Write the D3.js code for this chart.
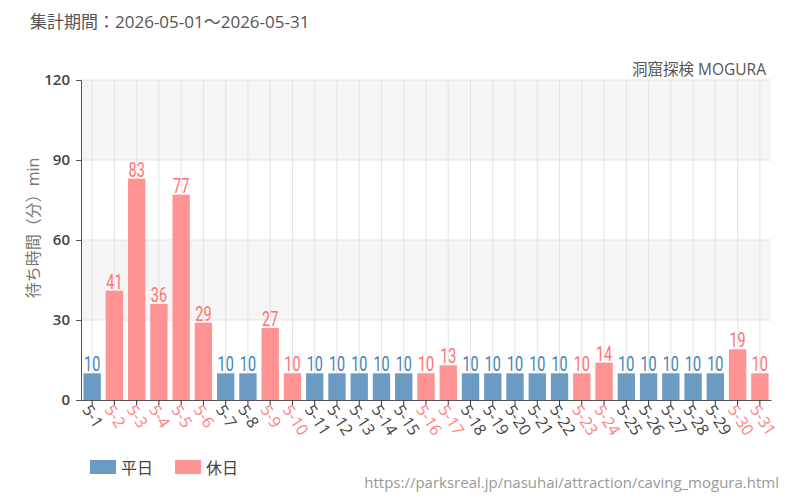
<!DOCTYPE html>
<html>
<head>
<meta charset="utf-8">
<script src="https://cdn.jsdelivr.net/npm/d3@7"></script>
<style>
body { margin:0; background:#fff; }
text { font-family: "Open Sans", "Noto Sans CJK JP", sans-serif; }
</style>
</head>
<body>
<svg id="chart" width="800" height="500"></svg>
<script>
// data
var days = ["5-1","5-2","5-3","5-4","5-5","5-6","5-7","5-8","5-9","5-10","5-11","5-12","5-13","5-14","5-15","5-16","5-17","5-18","5-19","5-20","5-21","5-22","5-23","5-24","5-25","5-26","5-27","5-28","5-29","5-30","5-31"];
var waits = [10,41,83,36,77,29,10,10,27,10,10,10,10,10,10,10,13,10,10,10,10,10,10,14,10,10,10,10,10,19,10];
var holiday = [0,1,1,1,1,1,0,0,1,1,0,0,0,0,0,1,1,0,0,0,0,0,1,1,0,0,0,0,0,1,1];
var yTicks = [0,30,60,90,120];
var legendNames = ["平日","休日"];

var barColor = ["#6b9bc3","#ff9292"];
var labelColor = ["#4682b4","#ff7070"];

var svg = d3.select("#chart");
let m = {l:81,r:29,t:80,b:100};
var w = 800 - m.l - m.r, h = 500 - m.t - m.b;

var x = d3.scaleBand().domain(days).range([0,w]).paddingInner(0.22).paddingOuter(0.11);
var y = d3.scaleLinear().domain([0,120]).range([h,0]);

var g = svg.append("g").attr("transform","translate("+m.l+","+m.t+")");

// alternating bands
g.selectAll(".band").data(d3.pairs(yTicks))
    .join("rect")
    .attr("x",0).attr("width",w)
    .attr("y",d=>y(d[1])).attr("height",d=>y(d[0])-y(d[1]))
    .attr("fill",(d,i)=> i%2 ? "#f5f5f5" : "#ffffff");

// grid lines
g.selectAll(".hg").data(yTicks.slice(1))
    .join("line")
    .attr("x1",0).attr("x2",w)
    .attr("y1",d=>y(d)).attr("y2",d=>y(d))
    .attr("stroke","#e3e3e3");
g.selectAll(".vg").data(days)
    .join("line")
    .attr("x1",d=>x(d)+x.bandwidth()/2).attr("x2",d=>x(d)+x.bandwidth()/2)
    .attr("y1",0).attr("y2",h)
    .attr("stroke","#e3e3e3");

// bars
g.selectAll(".bar").data(days)
    .join("rect")
    .attr("x",d=>x(d)).attr("width",x.bandwidth())
    .attr("y",(d,i)=>y(waits[i])).attr("height",(d,i)=>h-y(waits[i]))
    .attr("fill",(d,i)=>barColor[holiday[i]]);

// value labels (condensed look)
g.selectAll(".val").data(days)
    .join("text")
    .attr("transform",(d,i)=>"translate("+(x(d)+x.bandwidth()/2)+","+(y(waits[i])-2)+") scale(0.72,1)")
    .attr("text-anchor","middle")
    .style("font-family","Roboto, sans-serif")
    .style("font-size","20px")
    .attr("fill",(d,i)=>labelColor[holiday[i]])
    .text((d,i)=>waits[i]);

// y axis
var yAxis = g.append("g").call(d3.axisLeft(y).tickValues(yTicks).tickSize(5).tickPadding(6));
yAxis.select(".domain").attr("stroke","#555");
yAxis.selectAll(".tick line").attr("stroke","#555");
yAxis.selectAll("text").style("font-size","15px").style("font-weight","600").attr("fill","#444");

// x axis
var xAxis = g.append("g").attr("transform","translate(0,"+h+")")
    .call(d3.axisBottom(x).tickSize(5).tickSizeOuter(0));
xAxis.select(".domain").attr("stroke","#555");
xAxis.selectAll(".tick line").attr("stroke","#333");
xAxis.selectAll("text")
    .style("font-size","16px")
    .attr("text-anchor","start")
    .attr("transform","translate(1,2) rotate(57)")
    .attr("dy","0.35em")
    .attr("fill",(d,i)=> holiday[i] ? "#ff8080" : "#444");

// titles
svg.append("text").attr("x",30).attr("y",28)
    .style("font-size","17px").attr("fill","#555")
    .text("集計期間：2026-05-01～2026-05-31");
svg.append("text").attr("x",766).attr("y",75).attr("text-anchor","end")
    .style("font-size","15.5px").attr("fill","#555")
    .text("洞窟探検 MOGURA");
svg.append("text").attr("transform","translate(39,228) rotate(-90)")
    .attr("text-anchor","middle")
    .style("font-size","16px").attr("fill","#777")
    .text("待ち時間（分）min");

// legend
var lg = svg.append("g").attr("transform","translate(90,460)");
var items = lg.selectAll("g").data(legendNames).join("g")
    .attr("transform",(d,i)=>"translate("+(i*85)+",0)");
items.append("rect").attr("width",26).attr("height",14).attr("fill",(d,i)=>barColor[i]);
items.append("text").attr("x",31).attr("y",14)
    .style("font-size","16px").attr("fill","#444").text(d=>d);

// source
svg.append("text").attr("x",779).attr("y",488).attr("text-anchor","end")
    .style("font-size","15px").attr("fill","#999")
    .text("https://parksreal.jp/nasuhai/attraction/caving_mogura.html");
</script>
</body>
</html>
